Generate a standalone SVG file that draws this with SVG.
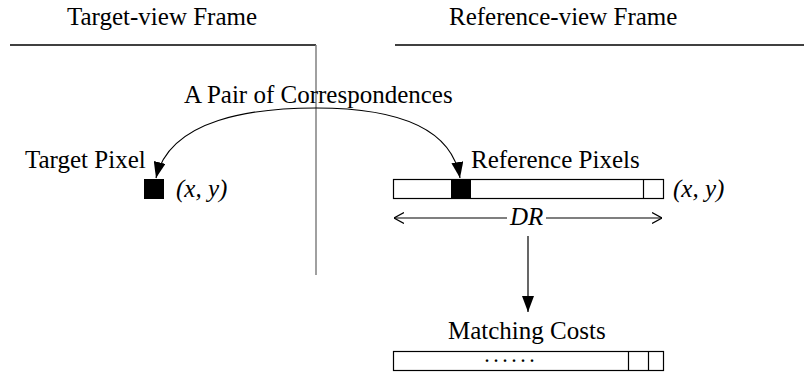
<svg xmlns="http://www.w3.org/2000/svg" width="804" height="376" viewBox="0 0 804 376">
  <style>
    text { font-family: "Liberation Serif", "Times New Roman", serif; font-size: 25px; fill: #000; }
    .it { font-style: italic; }
    .frame { stroke: #000; stroke-width: 1.5; fill: none; }
    .divider { stroke: #808080; stroke-width: 1.5; fill: none; }
    .cell { stroke: #000; stroke-width: 1.2; fill: #fff; }
    .pix { fill: #000; stroke: #000; stroke-width: 1; }
    .conn { stroke: #000; stroke-width: 1.2; fill: none; }
  </style>
  <defs>
    <marker id="head" viewBox="0 0 16 12" refX="16" refY="6" markerWidth="16" markerHeight="12" markerUnits="userSpaceOnUse" orient="auto">
      <path d="M0,0 L16,6 L0,12 Z" fill="#000"/>
    </marker>
    <marker id="open" viewBox="0 0 10 12" refX="10" refY="6" markerWidth="10" markerHeight="12" markerUnits="userSpaceOnUse" orient="auto-start-reverse">
      <path d="M0,0.5 L10,6 L0,11.5" fill="none" stroke="#000" stroke-width="1.2"/>
    </marker>
  </defs>

  <!-- frame headers and dividing lines -->
  <g id="frames">
    <text x="67" y="25">Target-view Frame</text>
    <text x="449" y="25">Reference-view Frame</text>
    <path class="frame" d="M10,45 H316"/>
    <path class="frame" d="M395,45 H804"/>
    <path class="divider" d="M316,45 V275"/>
  </g>

  <g id="pair-label">
    <text x="184" y="103">A Pair of Correspondences</text>
  </g>

  <!-- target pixel -->
  <g id="target-pixel">
    <text x="25" y="168">Target Pixel</text>
    <rect class="pix" x="144.5" y="179.5" width="19" height="19"/>
    <text class="it" x="176" y="197">(x, y)</text>
  </g>

  <!-- reference pixel row -->
  <g id="reference-pixels">
    <text x="471" y="168">Reference Pixels</text>
    <rect class="cell" x="393.5" y="179.5" width="270" height="19"/>
    <rect class="pix" x="451.5" y="179.5" width="19" height="19"/>
    <path class="conn" d="M643.5,179.5 V198.5"/>
    <text class="it" x="673" y="197">(x, y)</text>
  </g>

  <!-- disparity range -->
  <g id="disparity-range">
    <text class="it" x="510" y="225">DR</text>
  </g>

  <!-- matching cost row -->
  <g id="matching-costs">
    <text x="448" y="339">Matching Costs</text>
    <rect class="cell" x="393.5" y="351.5" width="270" height="19"/>
    <path class="conn" d="M628.5,351.5 V370.5 M648.5,351.5 V370.5"/>
    <text x="485" y="362" style="font-size:16px; font-weight:bold; letter-spacing:5px">......</text>
  </g>

  <g id="connectors">
    <path class="conn" d="M316,108 C255,108 170,118 156,178" marker-end="url(#head)"/>
    <path class="conn" d="M316,108 C375,108 450,118 460,178" marker-end="url(#head)"/>
    <path class="conn" d="M394,218 H507" marker-start="url(#open)"/>
    <path class="conn" d="M546,218 H662" marker-end="url(#open)"/>
    <path class="conn" d="M528,236 V312" marker-end="url(#head)"/>
  </g>
</svg>
